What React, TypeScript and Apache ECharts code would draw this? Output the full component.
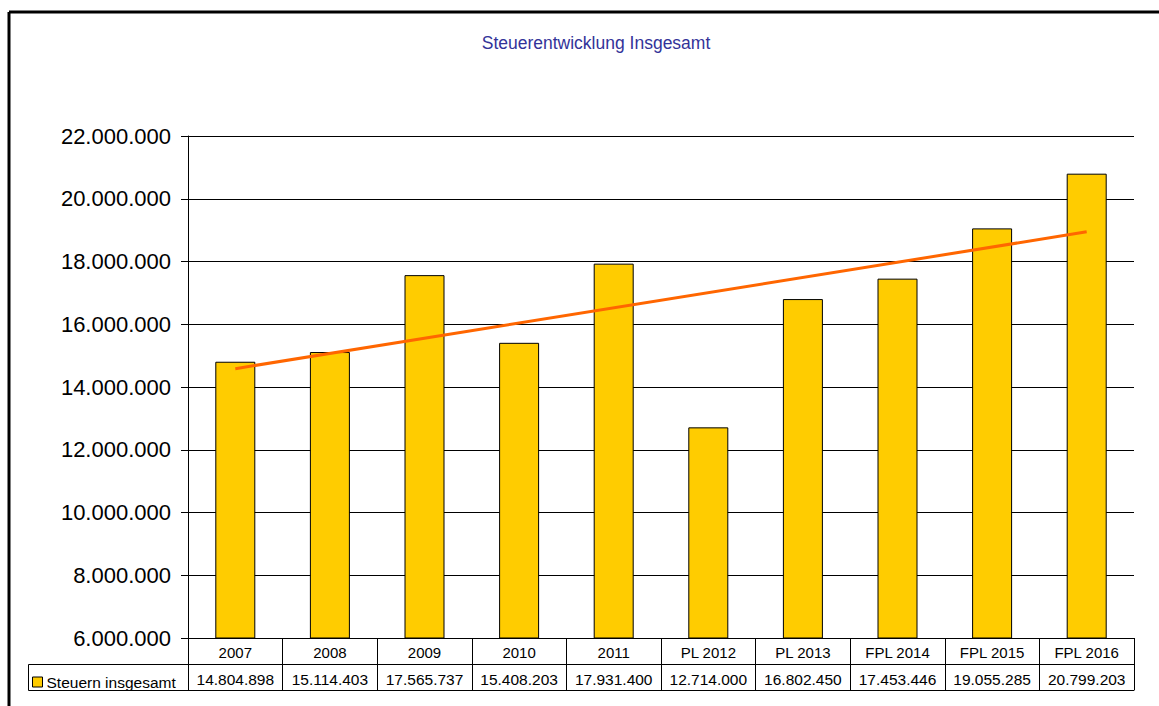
import React, { useEffect, useRef } from "react";
import * as echarts from "echarts";

const title = "Steuerentwicklung Insgesamt";
const seriesName = "Steuern insgesamt";
const categories = ["2007", "2008", "2009", "2010", "2011", "PL 2012", "PL 2013", "FPL 2014", "FPL 2015", "FPL 2016"];
const values = [14804898, 15114403, 17565737, 15408203, 17931400, 12714000, 16802450, 17453446, 19055285, 20799203];
// trend line end points (first and last category)
const trendStart = 14585000;
const trendEnd = 18945000;
const yMin = 6000000;
const yMax = 22000000;
const yStep = 2000000;

const fmt = (n: number) => String(Math.round(n)).replace(/\B(?=(\d{3})+(?!\d))/g, ".");

export default function App() {
  const ref = useRef<HTMLDivElement>(null);
  useEffect(() => {
    if (!ref.current) return;
    const chart = echarts.init(ref.current, null, { renderer: "svg" });
    const font = "'Liberation Sans', Arial, sans-serif";
    chart.setOption({
      animation: false,
      backgroundColor: "#fff",
      title: {
        text: title,
        left: 591,
        textAlign: "center",
        top: 29,
        textStyle: { fontFamily: font, fontSize: 17.5, fontWeight: "normal", color: "#333399" },
      },
      legend: {
        left: 27,
        top: 669,
        itemWidth: 10,
        itemHeight: 10,
        itemGap: 4,
        icon: "rect",
        itemStyle: { borderColor: "#000", borderWidth: 1 },
        textStyle: { fontFamily: font, fontSize: 15.5, color: "#000", padding: [0, 0, 0, -1] },
        data: [seriesName],
      },
      grid: { left: 188, top: 136, right: 25, bottom: 68, containLabel: false },
      xAxis: [
        {
          type: "category",
          data: categories,
          position: "bottom",
          axisLine: { show: true, lineStyle: { color: "#000", width: 1 } },
          axisTick: { show: true, length: 52, interval: 0, alignWithLabel: false, lineStyle: { color: "#000" } },
          axisLabel: { interval: 0, margin: 7, fontFamily: font, fontSize: 15, color: "#000" },
        },
        {
          type: "category",
          data: categories,
          position: "bottom",
          offset: 26,
          axisLine: { show: true, lineStyle: { color: "#000", width: 1 } },
          axisTick: { show: false },
          axisLabel: {
            interval: 0,
            margin: 7,
            fontFamily: font,
            fontSize: 15.5,
            color: "#000",
            formatter: (_v: string, i: number) => fmt(values[i]),
          },
        },
        {
          type: "category",
          data: categories,
          position: "bottom",
          offset: 52,
          axisLine: { show: true, lineStyle: { color: "#000", width: 1 } },
          axisTick: { show: false },
          axisLabel: { show: false },
        },
      ],
      yAxis: {
        type: "value",
        min: yMin,
        max: yMax,
        interval: yStep,
        axisLine: { show: true, lineStyle: { color: "#000", width: 1 } },
        axisTick: { show: true, length: 7, lineStyle: { color: "#000" } },
        axisLabel: { margin: 17, fontFamily: font, fontSize: 22, color: "#000", formatter: (v: number) => fmt(v) },
        splitLine: { show: true, lineStyle: { color: "#000", width: 1 } },
      },
      series: [
        {
          name: seriesName,
          type: "bar",
          data: values,
          barWidth: 40,
          itemStyle: { color: "#FFCC00", borderColor: "#000", borderWidth: 1 },
          markLine: {
            silent: true,
            symbol: ["none", "none"],
            label: { show: false },
            lineStyle: { color: "#FF6600", width: 3, type: "solid" },
            data: [[{ coord: [0, trendStart] }, { coord: [categories.length - 1, trendEnd] }]],
          },
        },
      ],
      graphic: [
        { type: "line", shape: { x1: 9, y1: 12, x2: 1159, y2: 12 }, style: { stroke: "#000", lineWidth: 3 } },
        { type: "line", shape: { x1: 9, y1: 12, x2: 9, y2: 706 }, style: { stroke: "#000", lineWidth: 3 } },
        {
          type: "rect",
          shape: { x: 28.5, y: 664.5, width: 160, height: 26 },
          style: { fill: "none", stroke: "#000", lineWidth: 1 },
          z: 10,
        },
      ],
    });
    return () => chart.dispose();
  }, []);
  return <div ref={ref} style={{ position: "fixed", left: 0, top: 0, width: 1159, height: 706 }} />;
}
